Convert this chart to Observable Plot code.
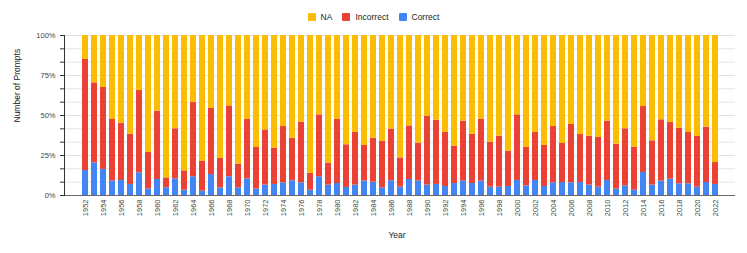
<!DOCTYPE html>
<html>
<head>
<meta charset="utf-8">
<script src="https://cdn.jsdelivr.net/npm/d3@7"></script>
<script src="https://cdn.jsdelivr.net/npm/@observablehq/plot@0.6"></script>
<style>
  html, body { margin: 0; padding: 0; background: #fff; }
  body { width: 747px; height: 253px; overflow: hidden; font-family: "Liberation Sans", Arial, sans-serif; }
  #legend { height: 30px; display: flex; justify-content: center; align-items: center; padding-top: 4px; box-sizing: border-box; font-size: 8.5px; color: #222; }
  #legend .item { display: flex; align-items: center; margin: 0 5px; }
  #legend .sw { width: 8px; height: 8px; margin-right: 5px; border-radius: 1px; }
</style>
</head>
<body>
<div id="legend"></div>
<div id="chart"></div>
<script>
const years = d3.range(1952, 2023);
const categories = ["NA", "Incorrect", "Correct"];
const colors = ["#FBBC04", "#EA4335", "#4285F4"];
const correct = [15.6,20.4,16.3,9.0,9.4,6.9,14.2,4.0,10.0,4.8,10.4,3.3,11.7,2.7,13.1,4.8,11.7,4.8,10.4,4.0,
  6.5,6.9,7.9,9.2,7.9,3.3,11.7,6.5,7.5,5.0,6.5,9.0,8.3,4.8,9.2,5.2,10.0,9.0,6.5,6.9,
  5.6,7.5,9.0,7.5,9.0,5.2,5.2,5.6,9.4,6.0,9.4,5.6,7.9,8.1,7.9,8.1,6.5,5.2,9.4,4.0,
  6.0,3.3,14.4,6.5,9.0,10.2,7.3,7.3,5.2,8.1,6.9];
const incorrect = [69.4,50.0,51.2,38.5,35.8,31.4,51.4,22.9,42.7,6.2,31.3,12.1,46.4,18.6,41.3,18.3,44.3,14.8,37.1,26.0,
  34.5,22.7,35.2,26.6,37.9,10.5,38.7,13.7,40.2,26.7,32.9,22.3,27.5,29.0,32.3,18.3,33.5,23.7,43.1,40.2,
  33.8,23.3,37.5,30.8,38.7,28.1,31.9,22.1,41.0,24.0,30.0,25.7,35.2,24.4,36.5,30.0,30.6,31.1,37.1,28.1,
  35.7,26.9,41.2,27.7,38.3,35.4,34.8,32.1,31.7,34.6,13.7];
const na = [15.0,29.6,32.5,52.5,54.8,61.7,34.4,73.1,47.3,89.0,58.3,84.6,41.9,78.7,45.6,76.9,44.0,80.4,52.5,70.0,
  59.0,70.4,56.9,64.2,54.2,86.2,49.6,79.8,52.3,68.3,60.6,68.7,64.2,66.2,58.5,76.5,56.5,67.3,50.4,52.9,
  60.6,69.2,53.5,61.7,52.3,66.7,62.9,72.3,49.6,70.0,60.6,68.7,56.9,67.5,55.6,61.9,62.9,63.7,53.5,67.9,
  58.3,69.8,44.4,65.8,52.7,54.4,57.9,60.6,63.1,57.3,79.4];
const yTicks = d3.range(0, 13).map(i => i * 100 / 12);
const xTickLabels = years.filter(y => y % 2 === 0);

const rows = [];
years.forEach((yr, i) => {
  rows.push({year: yr, type: "Correct", value: correct[i]});
  rows.push({year: yr, type: "Incorrect", value: incorrect[i]});
  rows.push({year: yr, type: "NA", value: na[i]});
});

// legend
const leg = document.getElementById("legend");
categories.forEach((c, i) => {
  const it = document.createElement("div");
  it.className = "item";
  it.innerHTML = `<span class="sw" style="background:${colors[i]}"></span><span>${c}</span>`;
  leg.appendChild(it);
});

const chart = Plot.plot({
  width: 747,
  height: 223,
  marginTop: 5,
  marginBottom: 58,
  marginLeft: 64,
  marginRight: 12,
  style: {fontFamily: "'Liberation Sans', Arial, sans-serif", fontSize: "7.5px", color: "#444", background: "#fff"},
  x: {type: "band", domain: years, padding: 0.37, label: null},
  y: {domain: [0, 100], label: null},
  color: {domain: categories, range: colors},
  marks: [
    Plot.gridY(yTicks, {stroke: "#e2e2e2", strokeOpacity: 1}),
    Plot.barY(rows, Plot.stackY({
      x: "year", y: "value", fill: "type",
      order: ["Correct", "Incorrect", "NA"]
    })),
    Plot.axisY(yTicks, {tickSize: 4, tickPadding: 5, stroke: "#333",
      tickFormat: d => (Math.round(d) % 25 === 0 && Math.abs(d - Math.round(d)) < 1e-9) ? Math.round(d) + "%" : "",
      fontSize: 7.5, fill: "#444"}),
    Plot.axisX(xTickLabels, {tickSize: 0, tickPadding: 4, tickRotate: -90, fontSize: 7.5, fill: "#444",
      tickFormat: d => String(d)}),
    Plot.ruleY([0], {stroke: "#666", strokeWidth: 1}),
    Plot.frame({anchor: "left", stroke: "#333"}),
    Plot.text(["Number of Prompts"], {frameAnchor: "left", dx: -47, dy: 7, rotate: -90, fontSize: 8.5, fill: "#222"}),
    Plot.text(["Year"], {frameAnchor: "bottom", dy: 42, dx: -3, fontSize: 8.5, fill: "#222"})
  ]
});
document.getElementById("chart").appendChild(chart);
</script>
</body>
</html>
